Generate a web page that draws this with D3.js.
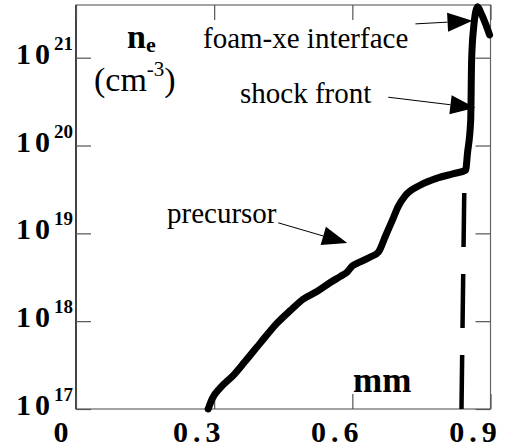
<!DOCTYPE html>
<html>
<head>
<meta charset="utf-8">
<script src="https://cdn.jsdelivr.net/npm/d3@7"></script>
<style>
  body { margin: 0; background: #fff; }
  svg { display: block; }
</style>
</head>
<body>
<svg width="515" height="448"></svg>
<script>
// ---- data ----
// position (mm)
let posMM = [0.287, 0.296, 0.313, 0.341, 0.367, 0.400, 0.437, 0.465, 0.493, 0.524,
             0.552, 0.574, 0.589, 0.600, 0.611, 0.639, 0.657, 0.672, 0.687, 0.700,
             0.715, 0.748, 0.785, 0.820, 0.846, 0.850, 0.857, 0.859, 0.863, 0.872,
             0.880, 0.889, 0.898];
// log10 of electron density n_e (cm^-3)
let logNe = [17.00, 17.12, 17.24, 17.38, 17.54, 17.75, 17.98, 18.12, 18.25, 18.34,
             18.44, 18.51, 18.56, 18.63, 18.66, 18.73, 18.79, 18.97, 19.15, 19.31,
             19.43, 19.55, 19.63, 19.68, 19.72, 19.91, 20.29, 20.97, 21.32, 21.58,
             21.50, 21.39, 21.26];
// dashed vertical line
let dashMM = [0.837, 0.843];
let dashLogNe = [17.0, 19.46];

let xTicks = [0, 0.3, 0.6, 0.9];
let xTickLabels = ["0", "0.3", "0.6", "0.9"];
let yTicks = [1e17, 1e18, 1e19, 1e20, 1e21];
let yTickExp = ["17", "18", "19", "20", "21"];

// annotations: label, arrow start and tip in data units (mm, log10 ne)
let noteLabels = ["foam-xe interface", "shock front", "precursor"];
let noteFrom = [[0.737, 21.385], [0.678, 20.55], [0.439, 19.12]];
let noteTip  = [[0.861, 21.42], [0.867, 20.43], [0.589, 18.89]];

// ---- layout ----
const serif = "Liberation Serif";
let svg = d3.select("svg").attr("font-family", serif);
const mLeft = 76, mRight = 490.5, mTop = 5, mBottom = 409;

let x = d3.scaleLinear().domain([0, 0.9]).range([mLeft, mRight]);
let y = d3.scaleLog().domain([1e17, Math.pow(10, 21.6)]).range([mBottom, mTop]);

// frame
svg.append("rect")
   .attr("x", mLeft).attr("y", mTop)
   .attr("width", mRight - mLeft).attr("height", mBottom - mTop)
   .attr("fill", "none").attr("stroke", "#666").attr("stroke-width", 1.2);
svg.append("line")
   .attr("x1", mLeft).attr("x2", mLeft).attr("y1", mTop).attr("y2", mBottom)
   .attr("stroke", "#111").attr("stroke-width", 1.3);

// inward ticks on all four sides
function styleAxis(g) {
    g.select(".domain").remove();
    g.selectAll(".tick line").attr("stroke", "#555").attr("stroke-width", 1.2);
    g.selectAll(".tick text").remove();
}
svg.append("g").attr("transform", `translate(0,${mBottom})`)
   .call(d3.axisBottom(x).tickValues(xTicks).tickSizeInner(-15).tickSizeOuter(0)).call(styleAxis);
svg.append("g").attr("transform", `translate(0,${mTop})`)
   .call(d3.axisTop(x).tickValues(xTicks).tickSizeInner(-15).tickSizeOuter(0)).call(styleAxis);
svg.append("g").attr("transform", `translate(${mLeft},0)`)
   .call(d3.axisLeft(y).tickValues(yTicks).tickSizeInner(-15).tickSizeOuter(0)).call(styleAxis);
svg.append("g").attr("transform", `translate(${mRight},0)`)
   .call(d3.axisRight(y).tickValues(yTicks).tickSizeInner(-15).tickSizeOuter(0)).call(styleAxis);

// x tick labels
svg.selectAll(".xlab")
   .data(xTicks)
   .enter().append("text")
   .attr("class", "xlab")
   .attr("font-family", serif)
   .attr("x", d => x(d) - 15)
   .attr("y", 442)
   .attr("text-anchor", "middle")
   .attr("font-size", 30).attr("font-weight", "bold")
   .attr("letter-spacing", (d, i) => xTickLabels[i].length > 1 ? 5 : 0)
   .text((d, i) => xTickLabels[i]);

// y tick labels: 10 with superscript exponent
let ylab = svg.selectAll(".ylab")
   .data(yTicks)
   .enter().append("text")
   .attr("class", "ylab")
   .attr("font-family", serif)
   .attr("x", 16)
   .attr("y", d => y(d) + 6)
   .attr("font-weight", "bold");
ylab.append("tspan").attr("font-size", 30).attr("letter-spacing", 4).text("10");
ylab.append("tspan").attr("font-size", 19).attr("dy", -14).text((d, i) => yTickExp[i]);

// axis titles
let ne = svg.append("text").attr("font-family", serif)
   .attr("x", 127).attr("y", 48).attr("font-weight", "bold");
ne.append("tspan").attr("font-size", 34).text("n");
ne.append("tspan").attr("font-size", 22).attr("dy", 4).text("e");

let cm = svg.append("text").attr("font-family", serif)
   .attr("x", 94).attr("y", 91).attr("font-size", 34);
cm.append("tspan").text("(cm");
cm.append("tspan").attr("font-size", 21).attr("dy", -15).text("-3");
cm.append("tspan").attr("dy", 15).text(")");

svg.append("text").attr("font-family", serif).attr("x", 353).attr("y", 392)
   .attr("font-size", 35).attr("font-weight", "bold").text("mm");

// density profile
let line = d3.line()
    .x(d => x(d[0]))
    .y(d => y(Math.pow(10, d[1])));

let profile = posMM.map((v, i) => [v, logNe[i]]);
svg.append("path")
   .datum(profile)
   .attr("d", line.curve(d3.curveMonotoneX))
   .attr("fill", "none").attr("stroke", "#000")
   .attr("stroke-width", 7).attr("stroke-linejoin", "round").attr("stroke-linecap", "round");

let dash = dashMM.map((v, i) => [v, dashLogNe[i]]);
svg.append("path")
   .datum(dash)
   .attr("d", line.curve(d3.curveLinear))
   .attr("fill", "none").attr("stroke", "#000")
   .attr("stroke-width", 4.5).attr("stroke-dasharray", "54,27");

// annotation text
let notePos = [[203, 48], [240, 103], [167, 223]];
noteLabels.forEach((t, i) => {
    svg.append("text").attr("font-family", serif)
       .attr("x", notePos[i][0]).attr("y", notePos[i][1])
       .attr("font-size", 29).text(t);
});

// arrows
noteLabels.forEach((t, i) => {
    let x0 = x(noteFrom[i][0]), y0 = y(Math.pow(10, noteFrom[i][1]));
    let x1 = x(noteTip[i][0]),  y1 = y(Math.pow(10, noteTip[i][1]));
    let ang = Math.atan2(y1 - y0, x1 - x0);
    let len = 25, half = 9.5;
    let bx = x1 - len * Math.cos(ang), by = y1 - len * Math.sin(ang);
    svg.append("line")
       .attr("x1", x0).attr("y1", y0).attr("x2", bx).attr("y2", by)
       .attr("stroke", "#000").attr("stroke-width", 1);
    let pts = [
        [x1, y1],
        [bx + half * Math.sin(ang), by - half * Math.cos(ang)],
        [bx - half * Math.sin(ang), by + half * Math.cos(ang)]
    ];
    svg.append("polygon")
       .attr("points", pts.map(p => p.join(",")).join(" "))
       .attr("fill", "#000");
});
</script>
</body>
</html>
